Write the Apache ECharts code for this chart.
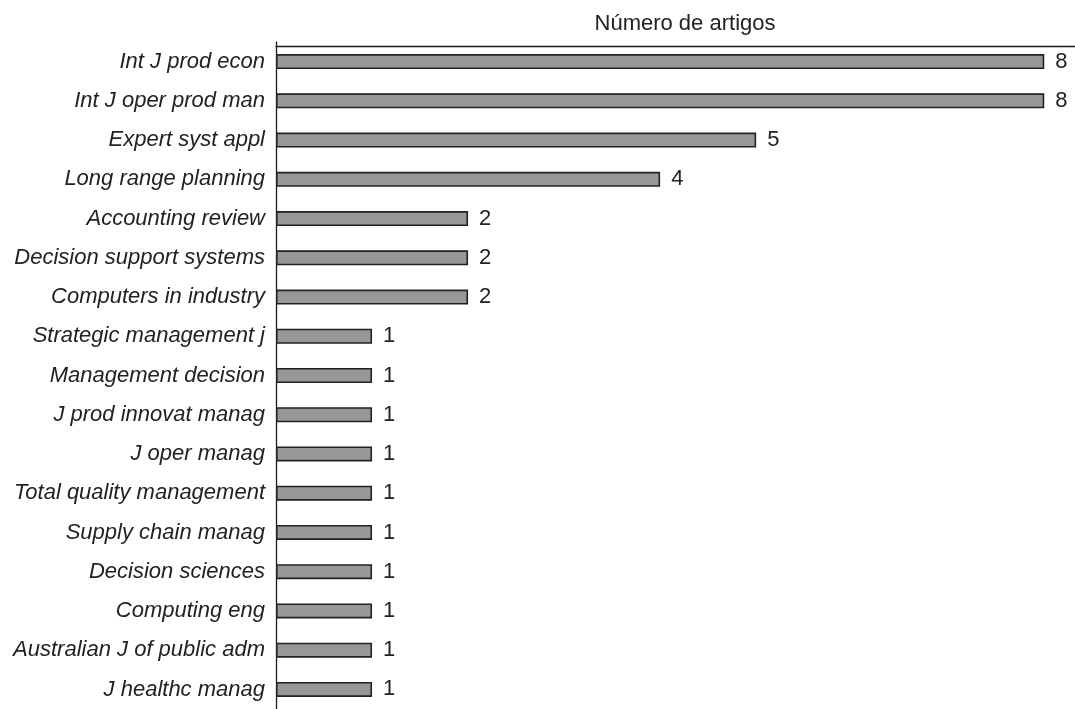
<!DOCTYPE html>
<html>
<head>
<meta charset="utf-8">
<script src="https://cdn.jsdelivr.net/npm/echarts@6/dist/echarts.min.js"></script>
<style>
  html, body { margin: 0; padding: 0; background: #fff; }
  #chart { width: 1075px; height: 709px; }
</style>
</head>
<body>
<div id="chart"></div>
<script>
// 期刊名称
const journals = [
  'Int J prod econ',
  'Int J oper prod man',
  'Expert syst appl',
  'Long range planning',
  'Accounting review',
  'Decision support systems',
  'Computers in industry',
  'Strategic management j',
  'Management decision',
  'J prod innovat manag',
  'J oper manag',
  'Total quality management',
  'Supply chain manag',
  'Decision sciences',
  'Computing eng',
  'Australian J of public adm',
  'J healthc manag'
]
// 文章数量
const articleCounts = [8, 8, 5, 4, 2, 2, 2, 1, 1, 1, 1, 1, 1, 1, 1, 1, 1]
const axisTitle = 'Número de artigos'

const font = 'Liberation Sans, Arial, sans-serif'
const myChart = echarts.init(document.getElementById('chart'))
const option = {
  animation: false,
  title: {
    text: axisTitle,
    left: 680,
    top: 8,
    textAlign: 'center',
    textStyle: {
      fontFamily: font,
      fontWeight: 'normal',
      fontSize: 22,
      color: '#222'
    }
  },
  grid: {
    left: 276,
    right: 0,
    top: 42,
    height: 676
  },
  xAxis: {
    type: 'value',
    position: 'top',
    min: 0,
    max: 8.32,
    offset: -4,
    axisLine: { show: true, lineStyle: { color: '#1a1a1a', width: 1.3 } },
    axisTick: { show: false },
    axisLabel: { show: false },
    splitLine: { show: false }
  },
  yAxis: {
    type: 'category',
    inverse: true,
    data: journals,
    axisLine: { show: true, lineStyle: { color: '#1a1a1a', width: 1.3 } },
    axisTick: { show: false },
    axisLabel: {
      margin: 11,
      fontFamily: font,
      fontStyle: 'italic',
      fontSize: 22,
      color: '#222'
    }
  },
  series: [
    {
      type: 'bar',
      data: articleCounts,
      barWidth: 15,
      itemStyle: {
        color: '#979797',
        borderColor: '#222',
        borderWidth: 1.6
      },
      label: {
        show: true,
        position: 'right',
        distance: 11,
        fontFamily: font,
        fontSize: 22,
        color: '#222'
      }
    }
  ]
}
myChart.setOption(option)
</script>
</body>
</html>
